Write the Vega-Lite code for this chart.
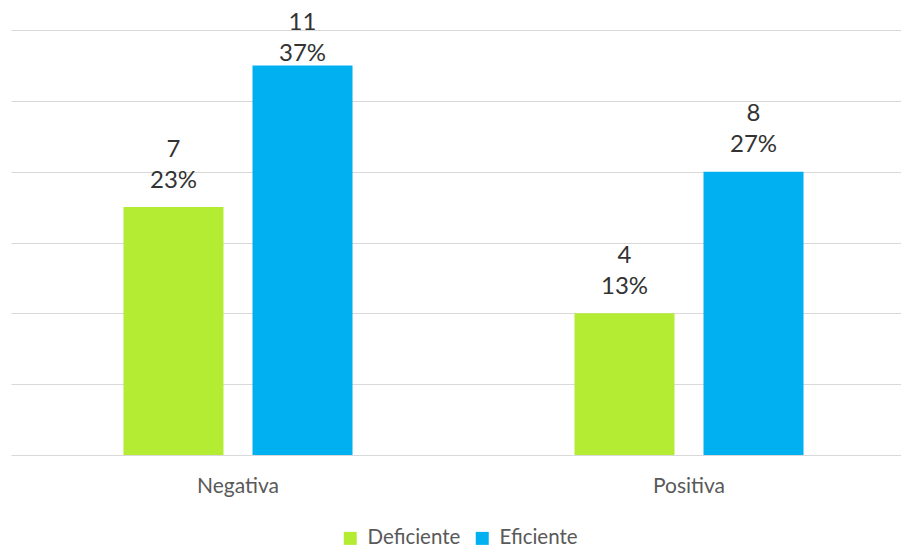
{
  "$schema": "https://vega.github.io/schema/vega-lite/v6.json",
  "width": 890,
  "height": 425,
  "autosize": {"type": "none"},
  "padding": {"left": 11, "top": 30, "right": 0, "bottom": 92},
  "background": "white",
  "config": {"view": {"stroke": null}, "font": "Lato"},
  "data": {
    "values": [
      {"actitud": "Negativa", "grupo": "Deficiente", "n": 7, "pct": "23%"},
      {"actitud": "Negativa", "grupo": "Eficiente", "n": 11, "pct": "37%"},
      {"actitud": "Positiva", "grupo": "Deficiente", "n": 4, "pct": "13%"},
      {"actitud": "Positiva", "grupo": "Eficiente", "n": 8, "pct": "27%"}
    ]
  },
  "encoding": {
    "x": {
      "field": "actitud",
      "type": "nominal",
      "sort": ["Negativa", "Positiva"],
      "scale": {"range": [0, 905], "paddingInner": 0.4922, "paddingOuter": 0.2494},
      "axis": {
        "title": null,
        "labelAngle": 0,
        "domain": false,
        "ticks": false,
        "grid": false,
        "labelFontSize": 21,
        "labelColor": "#595959",
        "labelBaseline": "alphabetic",
        "labelPadding": 37
      }
    },
    "xOffset": {
      "field": "grupo",
      "type": "nominal",
      "sort": ["Deficiente", "Eficiente"],
      "scale": {"paddingInner": 0.2248, "paddingOuter": 0}
    },
    "y": {
      "field": "n",
      "type": "quantitative",
      "scale": {"domain": [0, 12], "nice": false},
      "axis": {
        "values": [0, 2, 4, 6, 8, 10, 12],
        "title": null,
        "labels": false,
        "ticks": false,
        "domain": false,
        "gridColor": "#d9d9d9",
        "gridWidth": 1
      }
    }
  },
  "layer": [
    {
      "mark": {"type": "bar"},
      "encoding": {
        "color": {
          "field": "grupo",
          "type": "nominal",
          "scale": {"domain": ["Deficiente", "Eficiente"], "range": ["#b4ec34", "#00b0f0"]},
          "legend": {
            "title": null,
            "orient": "none",
            "direction": "horizontal",
            "legendX": 329,
            "legendY": 498,
            "symbolType": "square",
            "symbolSize": 169,
            "symbolStrokeWidth": 0,
            "symbolOpacity": 1,
            "labelFontSize": 20.5,
            "labelColor": "#595959",
            "labelOffset": 7,
            "columnPadding": 11
          }
        }
      }
    },
    {
      "mark": {
        "type": "text",
        "baseline": "alphabetic",
        "fontSize": 24,
        "color": "#333333",
        "dy": {"expr": "datum.n > 10 ? -4 : -19.5"}
      },
      "encoding": {"text": {"field": "pct"}}
    },
    {
      "mark": {
        "type": "text",
        "baseline": "alphabetic",
        "fontSize": 24,
        "color": "#333333",
        "dy": {"expr": "datum.n > 10 ? -35.5 : -50.5"}
      },
      "encoding": {"text": {"field": "n", "type": "quantitative"}}
    }
  ]
}
